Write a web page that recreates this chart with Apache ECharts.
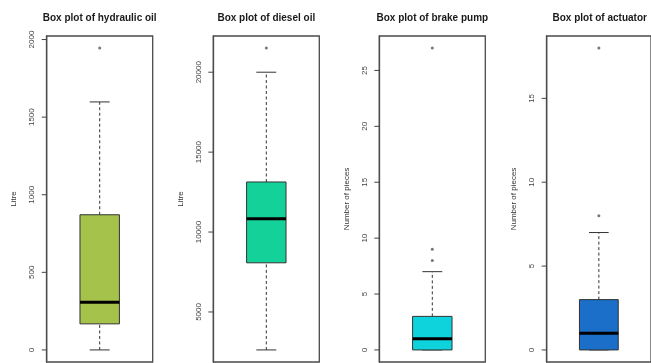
<!DOCTYPE html>
<html><head><meta charset="utf-8">
<script src="https://cdn.jsdelivr.net/npm/echarts@6/dist/echarts.min.js"></script>
<style>html,body{margin:0;padding:0;background:#fff}#c{width:651px;height:363px}</style>
</head><body><div id="c"></div>
<script>
// ---- data ----
const titles = ['Box plot of hydraulic oil', 'Box plot of diesel oil', 'Box plot of brake pump', 'Box plot of actuator'];
const yNames = ['Litre', 'Litre', 'Number of pieces', 'Number of pieces'];
// [lower whisker, Q1, median, Q3, upper whisker]
const hydraulicBox = [0, 168, 308, 871, 1598];
const dieselBox = [2625, 8076, 10833, 13133, 20000];
const brakeBox = [0, 0, 1, 3, 7];
const actuatorBox = [0, 0, 1, 3, 7];
const hydraulicOutliers = [1945];
const dieselOutliers = [21510];
const brakeOutliers = [27, 9, 8];
const actuatorOutliers = [18, 8];
const hydraulicTicks = [0, 500, 1000, 1500, 2000];
const dieselTicks = [5000, 10000, 15000, 20000];
const brakeTicks = [0, 5, 10, 15, 20, 25];
const actuatorTicks = [0, 5, 10, 15];

const boxes = [hydraulicBox, dieselBox, brakeBox, actuatorBox];
const outliers = [hydraulicOutliers, dieselOutliers, brakeOutliers, actuatorOutliers];
const ticks = [hydraulicTicks, dieselTicks, brakeTicks, actuatorTicks];

// ---- styles / layout ----
const fills = ['#a5c24a', '#14d19a', '#0fd3dc', '#1b6fc8'];
const panelLeft = [46.7, 213.3, 379.3, 546.7];
const panelW = 106, panelTop = 36, panelH = 326;
const FONT = '"Liberation Sans", Arial, Helvetica, sans-serif';

const grid = [], xAxis = [], yAxis = [], series = [], graphic = [];
for (let i = 0; i < 4; i++) {
  const all = boxes[i].concat(outliers[i]);
  const lo = Math.min(...all), hi = Math.max(...all);
  const pad = 0.04 * (hi - lo);
  const step = ticks[i][1] - ticks[i][0];
  grid.push({left: panelLeft[i], top: panelTop, width: panelW, height: panelH,
    show: true, borderColor: '#4a4a4a', borderWidth: 1.3, backgroundColor: 'transparent'});
  xAxis.push({type: 'category', gridIndex: i, data: ['v'], show: false});
  yAxis.push({type: 'value', gridIndex: i, min: lo - pad, max: hi + pad,
    minInterval: step, maxInterval: step,
    name: yNames[i], nameLocation: 'middle', nameGap: 29,
    nameTextStyle: {fontSize: 8, color: '#333', fontFamily: FONT},
    axisLine: {show: true, lineStyle: {color: '#4a4a4a', width: 1.3}}, splitLine: {show: false},
    axisTick: {show: false},
    axisLabel: {rotate: 90, margin: 11, fontSize: 8, color: '#444', fontFamily: FONT,
      showMinLabel: false, showMaxLabel: false,
      formatter: v => (ticks[i].indexOf(v) >= 0 ? String(v) : '')}
  });
  const fill = fills[i];
  // axis tick marks, placed through the y axis scale
  series.push({
    type: 'custom', xAxisIndex: i, yAxisIndex: i, clip: false, silent: true,
    data: ticks[i].map(v => [0, v]),
    encode: {x: 0, y: 1},
    renderItem: function (params, api) {
      const pt = api.coord([api.value(0), api.value(1)]);
      const band = api.size([1, 0])[0];
      const xe = pt[0] - band / 2;
      return {type: 'line', shape: {x1: xe - 5, y1: pt[1], x2: xe, y2: pt[1]},
        style: {stroke: '#444', lineWidth: 1}};
    }
  });
  series.push({
    type: 'custom', xAxisIndex: i, yAxisIndex: i,
    data: [[0].concat(boxes[i])],
    encode: {x: 0, y: [1, 2, 3, 4, 5]},
    renderItem: function (params, api) {
      const xi = api.value(0);
      const p = k => api.coord([xi, api.value(k)]);
      const band = api.size([1, 0])[0];
      const cx = p(1)[0];
      const hb = band * 0.186, hc = band * 0.094;
      const yMin = p(1)[1], yQ1 = p(2)[1], yMed = p(3)[1], yQ3 = p(4)[1], yMax = p(5)[1];
      const dash = {stroke: '#333', lineWidth: 1, lineDash: [3, 2.5]};
      const solid = {stroke: '#333', lineWidth: 1};
      return {type: 'group', children: [
        {type: 'line', shape: {x1: cx, y1: yMin, x2: cx, y2: yQ1}, style: dash},
        {type: 'line', shape: {x1: cx, y1: yQ3, x2: cx, y2: yMax}, style: dash},
        {type: 'line', shape: {x1: cx - hc, y1: yMin, x2: cx + hc, y2: yMin}, style: solid},
        {type: 'line', shape: {x1: cx - hc, y1: yMax, x2: cx + hc, y2: yMax}, style: solid},
        {type: 'rect', shape: {x: cx - hb, y: yQ3, width: 2 * hb, height: yQ1 - yQ3},
          style: {fill: fill, stroke: '#333', lineWidth: 1}},
        {type: 'line', shape: {x1: cx - hb, y1: yMed, x2: cx + hb, y2: yMed},
          style: {stroke: '#000', lineWidth: 3}}
      ]};
    }
  });
  series.push({
    type: 'scatter', xAxisIndex: i, yAxisIndex: i,
    data: outliers[i].map(v => [0, v]),
    symbol: 'circle', symbolSize: 3,
    itemStyle: {color: '#555'}
  });
  graphic.push({type: 'text', x: panelLeft[i] + panelW / 2, y: 18,
    style: {text: titles[i], fontSize: 10, fontWeight: 'bold', fontFamily: FONT,
      fill: '#1a1a1a', align: 'center', verticalAlign: 'middle'}});
}

const chart = echarts.init(document.getElementById('c'), null, {renderer: 'canvas'});
chart.setOption({animation: false, backgroundColor: '#fff', grid, xAxis, yAxis, series, graphic});
</script></body></html>
